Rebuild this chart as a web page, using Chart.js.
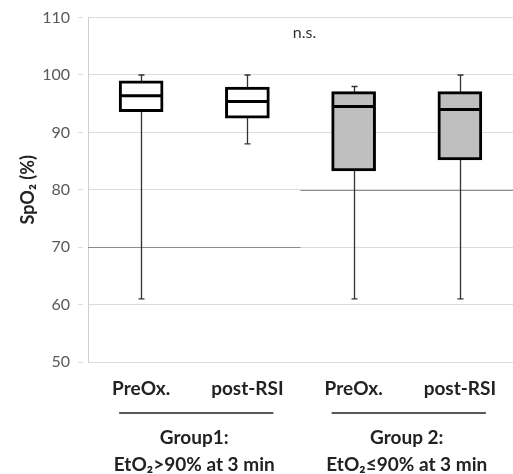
<!DOCTYPE html>
<html>
<head>
<meta charset="utf-8">
<script src="https://cdn.jsdelivr.net/npm/chart.js@4.4.1/dist/chart.umd.min.js"></script>
<style>
    body { margin: 0; background: #fff; }
    #wrap { width: 513px; height: 474px; position: relative; }
</style>
</head>
<body>
<div id="wrap"><canvas id="boxChart"></canvas></div>
<script>
// Data
const categories = ['PreOx.', 'post-RSI', 'PreOx.', 'post-RSI'];
const whiskerLow = [61, 88, 61, 61];
const q1 = [93.6, 92.5, 83.3, 85.2];
const median = [96.4, 95.4, 94.5, 94.0];
const q3 = [99.0, 97.9, 97.1, 97.1];
const whiskerHigh = [100, 100, 98, 100];
const groupNames = ['Group1:', 'Group 2:'];
const groupCriteria = ['EtO\u2082>90% at 3 min', 'EtO\u2082\u226490% at 3 min'];
const groupRefValues = [70, 80];
const yTicks = [50, 60, 70, 80, 90, 100, 110];
const significance = 'n.s.';

const FONT = 'Lato, "Open Sans", sans-serif';
const boxFill = ['#ffffff', '#ffffff', '#bfbfbf', '#bfbfbf'];

// whiskers behind the boxes, medians and group labels on top
const boxPlotExtras = {
    id: 'boxPlotExtras',
    beforeDatasetsDraw(chart) {
        const { ctx, scales: { x, y }, chartArea } = chart;
        ctx.save();
        // darker reference lines, one per group half
        ctx.strokeStyle = '#8c8c8c';
        ctx.lineWidth = 1;
        const mid = (x.getPixelForValue(1) + x.getPixelForValue(2)) / 2;
        const spans = [[chartArea.left, mid], [mid, chartArea.right]];
        groupRefValues.forEach((v, i) => {
            const py = Math.round(y.getPixelForValue(v)) + 0.5;
            ctx.beginPath();
            ctx.moveTo(spans[i][0], py);
            ctx.lineTo(spans[i][1], py);
            ctx.stroke();
        });
        // whiskers
        ctx.strokeStyle = '#333';
        ctx.lineWidth = 1.3;
        categories.forEach((c, i) => {
            const px = Math.round(x.getPixelForValue(i)) + 0.5;
            const top = y.getPixelForValue(whiskerHigh[i]);
            const bot = y.getPixelForValue(whiskerLow[i]);
            ctx.beginPath();
            ctx.moveTo(px, top);
            ctx.lineTo(px, bot);
            ctx.moveTo(px - 3, top);
            ctx.lineTo(px + 3, top);
            ctx.moveTo(px - 3, bot);
            ctx.lineTo(px + 3, bot);
            ctx.stroke();
        });
        ctx.restore();
    },
    afterDatasetsDraw(chart) {
        const { ctx, scales: { x, y } } = chart;
        ctx.save();
        ctx.strokeStyle = '#000';
        ctx.lineWidth = 3;
        categories.forEach((c, i) => {
            const px = x.getPixelForValue(i);
            const py = y.getPixelForValue(median[i]);
            ctx.beginPath();
            ctx.moveTo(px - 21, py);
            ctx.lineTo(px + 21, py);
            ctx.stroke();
        });
        ctx.restore();
    },
    afterDraw(chart) {
        const { ctx, scales: { x, y } } = chart;
        ctx.save();
        // n.s. above the middle
        const mid = (x.getPixelForValue(1) + x.getPixelForValue(2)) / 2;
        ctx.fillStyle = '#333';
        ctx.font = '16px ' + FONT;
        ctx.textAlign = 'center';
        ctx.textBaseline = 'middle';
        ctx.fillText(significance, mid + 4, y.getPixelForValue(107.4));
        // group brackets and labels
        groupNames.forEach((name, g) => {
            const a = x.getPixelForValue(g * 2);
            const b = x.getPixelForValue(g * 2 + 1);
            const cx = (a + b) / 2;
            ctx.strokeStyle = '#222';
            ctx.lineWidth = 1.5;
            ctx.beginPath();
            ctx.moveTo(a - 22, 413);
            ctx.lineTo(b + 26, 413);
            ctx.stroke();
            ctx.fillStyle = '#222';
            ctx.font = 'bold 19px ' + FONT;
            ctx.fillText(name, cx, 438);
            ctx.fillText(groupCriteria[g], cx, 465);
        });
        ctx.restore();
    }
};

const ctx = document.getElementById('boxChart').getContext('2d');
const boxChart = new Chart(ctx, {
    type: 'bar',
    data: {
        labels: categories,
        datasets: [{
            label: 'IQR',
            data: categories.map((c, i) => [q1[i], q3[i]]),
            backgroundColor: boxFill,
            borderColor: '#000',
            borderWidth: 3,
            borderSkipped: false,
            barThickness: 44
        }]
    },
    options: {
        responsive: true,
        maintainAspectRatio: false,
        animation: false,
        layout: { padding: { top: 15, right: 0, left: 0, bottom: 0 } },
        plugins: {
            legend: { display: false },
            tooltip: { enabled: false }
        },
        scales: {
            x: {
                grid: { display: false },
                border: { display: false },
                ticks: {
                    color: '#222',
                    padding: 7,
                    maxRotation: 0,
                    font: { family: FONT, size: 19, weight: 'bold' }
                },
                afterFit(scale) { scale.height = 112; }
            },
            y: {
                min: 50,
                max: 110,
                afterBuildTicks(scale) { scale.ticks = yTicks.map(v => ({ value: v })); },
                // long tick slot, only the 5px next to the axis is drawn
                grid: { color: '#dcdcdc', tickLength: 10, drawTicks: true, tickBorderDash: [5, 100] },
                border: { color: '#cfcfcf' },
                ticks: {
                    color: '#595959',
                    padding: 8,
                    font: { family: FONT, size: 16 }
                },
                title: {
                    display: true,
                    text: 'SpO\u2082 (%)',
                    color: '#222',
                    padding: { top: 17, bottom: 0 },
                    font: { family: FONT, size: 18, weight: 'bold' }
                },
                afterFit(scale) { scale.width = 88; }
            }
        }
    },
    plugins: [boxPlotExtras]
});
</script>
</body>
</html>
